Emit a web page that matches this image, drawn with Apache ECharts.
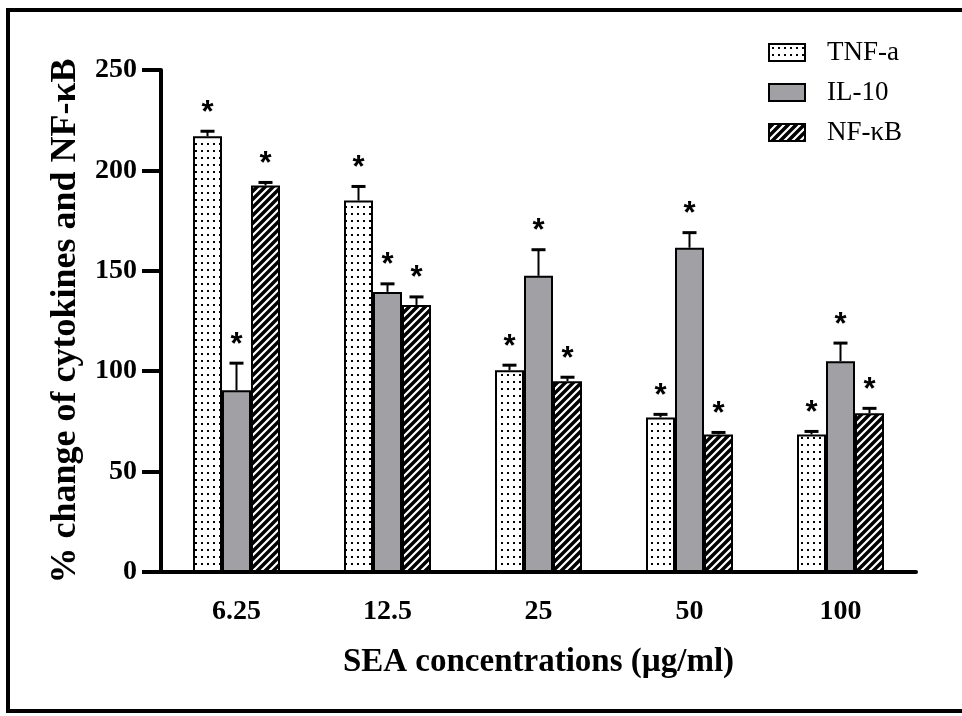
<!DOCTYPE html>
<html>
<head>
<meta charset="utf-8">
<script src="https://cdn.jsdelivr.net/npm/echarts@6/dist/echarts.min.js"></script>
<style>html,body{margin:0;padding:0;background:#fff}#chart{width:962px;height:716px}</style>
</head>
<body>
<div id="chart"></div>
<script>
const categories = ['6.25', '12.5', '25', '50', '100'];
const seriesNames = ['TNF-a', 'IL-10', 'NF-κB'];
const tnf = [217, 185, 100.5, 77, 68.5];
const tnfErr = [2.5, 7, 2.5, 1.5, 1.5];
const il10 = [90.5, 139.5, 147.5, 161.5, 105];
const il10Err = [13.5, 4, 13, 7.5, 9];
const nfkb = [192.5, 133, 95, 68.5, 79];
const nfkbErr = [1.5, 4, 2, 1, 2.5];
const yTicks = [0, 50, 100, 150, 200, 250];

function dotPattern() {
  const c = document.createElement('canvas');
  c.width = 6; c.height = 7;
  const g = c.getContext('2d');
  g.fillStyle = '#fff'; g.fillRect(0, 0, 6, 7);
  g.fillStyle = '#000'; g.fillRect(3, 3, 2, 2);
  return { image: c, repeat: 'repeat' };
}
function hatchPattern() {
  const s = 8;
  const c = document.createElement('canvas');
  c.width = s; c.height = s;
  const g = c.getContext('2d');
  g.fillStyle = '#000'; g.fillRect(0, 0, s, s);
  g.strokeStyle = '#fff'; g.lineWidth = 2.2;
  g.beginPath();
  g.moveTo(-1, s + 1); g.lineTo(s + 1, -1);
  g.moveTo(-1, 1); g.lineTo(1, -1);
  g.moveTo(s - 1, s + 1); g.lineTo(s + 1, s - 1);
  g.stroke();
  return { image: c, repeat: 'repeat' };
}

const fills = [dotPattern(), '#a0a0a5', hatchPattern()];
const values = [tnf, il10, nfkb];
const errs = [tnfErr, il10Err, nfkbErr];
const BAR_W = 29;
const SERIF = '"Liberation Serif", "Times New Roman", serif';

const chart = echarts.init(document.getElementById('chart'), null, { renderer: 'canvas' });

const series = [];
values.forEach((vals, k) => {
  series.push({
    name: seriesNames[k],
    type: 'bar',
    barWidth: BAR_W,
    barGap: '0%',
    data: vals,
    itemStyle: { color: fills[k], borderColor: '#000', borderWidth: 2 },
    z: 2
  });
});
values.forEach((vals, k) => {
  series.push({
    type: 'custom',
    name: 'err' + k,
    data: vals.map((v, i) => [i, v, errs[k][i]]),
    z: 3,
    silent: true,
    renderItem: function (params, api) {
      const base = api.coord([api.value(0), api.value(1)]);
      const top = api.coord([api.value(0), api.value(1) + api.value(2)]);
      const cx = base[0] + (k - 1) * BAR_W;
      return {
        type: 'group',
        children: [
          { type: 'line', shape: { x1: cx, y1: base[1], x2: cx, y2: top[1] }, style: { stroke: '#000', lineWidth: 2 } },
          { type: 'line', shape: { x1: cx - 7, y1: top[1], x2: cx + 7, y2: top[1] }, style: { stroke: '#000', lineWidth: 3 } },
          { type: 'text', x: cx, y: top[1] - 18, style: { text: '*', fill: '#000', font: 'bold 31px "Liberation Sans", Arial', textAlign: 'center', textVerticalAlign: 'middle' } }
        ]
      };
    }
  });
});

chart.setOption({
  animation: false,
  backgroundColor: '#fff',
  grid: { left: 161, right: 46, top: 70, bottom: 144 },
  legend: {
    orient: 'vertical',
    left: 768,
    top: 39,
    padding: 0,
    icon: 'rect',
    itemWidth: 36,
    itemHeight: 17,
    itemGap: 13,
    data: seriesNames,
    textStyle: { fontFamily: SERIF, fontSize: 27, color: '#000', padding: [0, 0, 0, 17] }
  },
  xAxis: {
    type: 'category',
    data: categories,
    name: 'SEA concentrations (µg/ml)',
    nameLocation: 'middle',
    nameGap: 74,
    nameTextStyle: { fontFamily: SERIF, fontWeight: 'bold', fontSize: 33, color: '#000' },
    axisLine: { lineStyle: { color: '#000', width: 4 } },
    axisTick: { alignWithLabel: true, length: 18, lineStyle: { color: '#000', width: 4 } },
    axisLabel: { margin: 26, fontFamily: SERIF, fontWeight: 'bold', fontSize: 28, color: '#000' }
  },
  yAxis: {
    type: 'value',
    min: 0, max: 250, interval: 50,
    name: '% change of cytokines and NF-κB',
    nameLocation: 'middle',
    nameGap: 70,
    nameTextStyle: { fontFamily: SERIF, fontWeight: 'bold', fontSize: 36, color: '#000' },
    axisLine: { show: true, lineStyle: { color: '#000', width: 4 } },
    axisTick: { show: true, length: 19, lineStyle: { color: '#000', width: 4 } },
    axisLabel: { margin: 24, fontFamily: SERIF, fontWeight: 'bold', fontSize: 28, color: '#000',
      formatter: v => yTicks.includes(v) ? String(v) : '' },
    splitLine: { show: false }
  },
  graphic: [{
    type: 'rect', silent: true, z: 100,
    shape: { x: 8, y: 10, width: 980, height: 701 },
    style: { fill: 'none', stroke: '#000', lineWidth: 4 }
  }],
  series: series
});
</script>
</body>
</html>
